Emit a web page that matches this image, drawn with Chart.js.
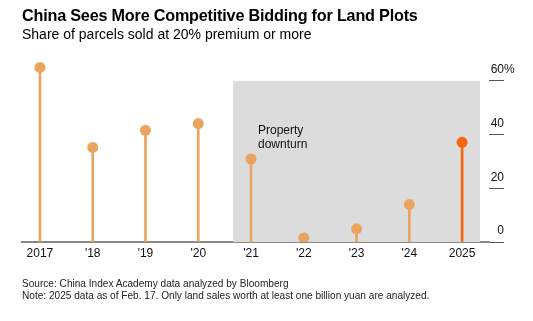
<!DOCTYPE html>
<html>
<head>
<meta charset="utf-8">
<script src="https://cdn.jsdelivr.net/npm/chart.js@4/dist/chart.umd.min.js"></script>
<style>
  body { margin: 0; background: #fff; font-family: "Liberation Sans", Arial, sans-serif; }
  #wrap { position: relative; width: 533px; height: 321px; overflow: hidden; }
  canvas { position: absolute; left: 0; top: 0; }
  .txt { position: absolute; left: 22px; white-space: nowrap; color: #000; }
  #title { top: 6px; font-size: 16.2px; font-weight: bold; letter-spacing: -0.2px; }
  #sub { top: 26px; font-size: 14px; }
  #src { top: 278px; font-size: 10.1px; color: #222; }
  #note { top: 290px; font-size: 10.1px; color: #222; }
</style>
</head>
<body>
<div id="wrap">
  <canvas id="chart" width="533" height="321"></canvas>
  <div class="txt" id="title">China Sees More Competitive Bidding for Land Plots</div>
  <div class="txt" id="sub">Share of parcels sold at 20% premium or more</div>
  <div class="txt" id="src">Source: China Index Academy data analyzed by Bloomberg</div>
  <div class="txt" id="note">Note: 2025 data as of Feb. 17. Only land sales worth at least one billion yuan are analyzed.</div>
</div>
<script>
// values
const years = ['2017', "'18", "'19", "'20", "'21", "'22", "'23", "'24", '2025']
const share = [65.0, 35.2, 41.6, 44.1, 30.9, 1.5, 4.9, 14.0, 37.1]
const yTicks = [0, 20, 40, 60]
const downturnFrom = 4   // '21
const downturnTo = 8     // 2025

const light = '#e9a55f'
const hot = '#f7650e'
const colors = years.map((y, i) => i === years.length - 1 ? hot : light)
const points = share.map((v, i) => ({ x: i, y: v }))

// grey "property downturn" band + label + % sign
const extras = {
  id: 'extras',
  beforeDatasetsDraw(chart) {
    const { ctx, scales: { x, y } } = chart
    const half = 0.34
    const left = x.getPixelForValue(downturnFrom - half)
    const right = x.getPixelForValue(downturnTo + half)
    const top = y.getPixelForValue(60)
    const bottom = y.getPixelForValue(0)
    ctx.save()
    ctx.fillStyle = '#dcdcdc'
    ctx.fillRect(left, top, right - left, bottom - top)
    ctx.fillStyle = '#111'
    ctx.font = '12px "Liberation Sans", Arial, sans-serif'
    ctx.textBaseline = 'top'
    ctx.fillText('Property', x.getPixelForValue(downturnFrom) + 7, y.getPixelForValue(43.5))
    ctx.fillText('downturn', x.getPixelForValue(downturnFrom) + 7, y.getPixelForValue(38.6))
    ctx.restore()
  },
  afterDraw(chart) {
    const { ctx, scales: { y } } = chart
    ctx.save()
    ctx.fillStyle = '#111'
    ctx.font = '12px "Liberation Sans", Arial, sans-serif'
    ctx.textBaseline = 'middle'
    ctx.textAlign = 'left'
    ctx.fillText('%', y.right, y.getPixelForValue(60) - 11)
    ctx.restore()
  }
}

new Chart(document.getElementById('chart'), {
  data: {
    datasets: [{
      type: 'line',
      data: points,
      showLine: false,
      pointRadius: 5.5,
      pointHoverRadius: 5.5,
      pointBorderWidth: 0,
      pointBackgroundColor: colors,
      order: 0
    }, {
      type: 'bar',
      data: points,
      backgroundColor: colors,
      barThickness: 2,
      order: 1
    }]
  },
  options: {
    responsive: false,
    animation: false,
    events: [],
    layout: { padding: { left: 22, top: 54, right: 29, bottom: 0 } },
    plugins: { legend: { display: false }, tooltip: { enabled: false } },
    scales: {
      x: {
        type: 'linear',
        offset: false,
        min: -0.34,
        max: 8.51,
        afterBuildTicks: s => { s.ticks = years.map((y, i) => ({ value: i })) },
        afterFit: s => { s.height = 79 },
        grid: { display: false, offset: false },
        border: { display: true, color: '#8a8a8a', width: 2 },
        ticks: {
          callback: v => years[v],
          color: '#111',
          padding: -4,
          maxRotation: 0,
          autoSkip: false,
          font: { family: '"Liberation Sans", Arial, sans-serif', size: 12 }
        }
      },
      y: {
        position: 'right',
        min: 0,
        max: 70,
        afterBuildTicks: s => { s.ticks = yTicks.map(v => ({ value: v })) },
        afterFit: s => { s.width = 15 },
        border: { display: false },
        grid: { drawOnChartArea: false, drawTicks: true, tickLength: 15, color: '#555', lineWidth: 1 },
        ticks: {
          crossAlign: 'far',
          labelOffset: -11,
          color: '#111',
          font: { family: '"Liberation Sans", Arial, sans-serif', size: 12 }
        }
      }
    }
  },
  plugins: [extras]
})
</script>
</body>
</html>
